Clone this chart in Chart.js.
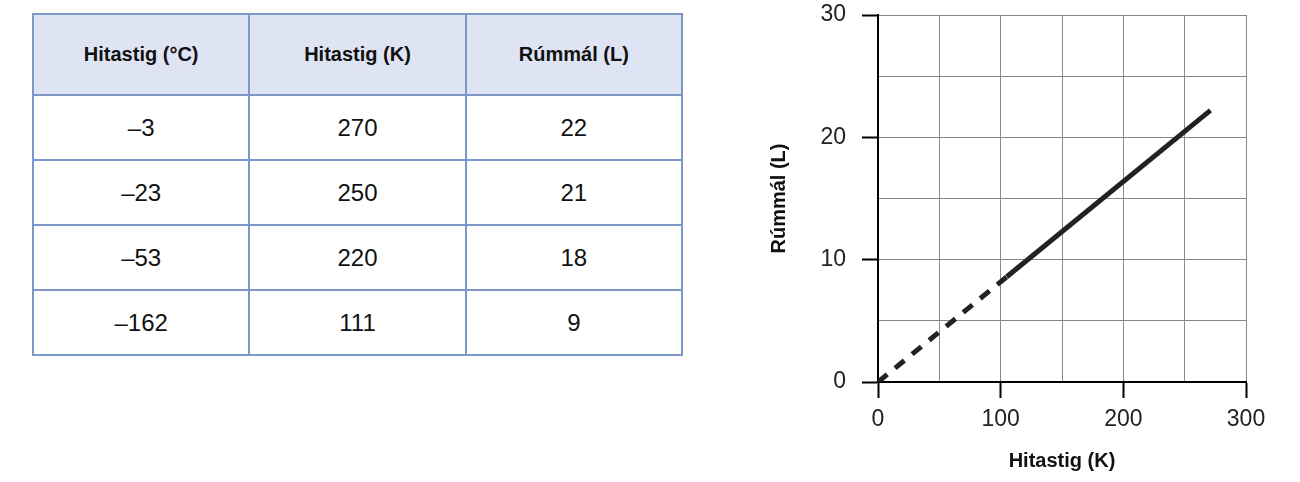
<!DOCTYPE html>
<html>
<head>
<meta charset="utf-8">
<script src="https://cdn.jsdelivr.net/npm/chart.js@4.4.1/dist/chart.umd.min.js"></script>
<style>
  body { margin: 0; width: 1300px; height: 482px; background: #fff; position: relative; font-family: "Liberation Sans", Arial, sans-serif; overflow: hidden; }
  #tbl { position: absolute; left: 32px; top: 13px; width: 651px; border-collapse: collapse; table-layout: fixed; color: #111; }
  #tbl th, #tbl td { border: 2px solid #7d97c9; text-align: center; padding: 0; }
  #tbl th { background: #dfe4f4; height: 79px; font-size: 20px; font-weight: bold; }
  #tbl td { height: 63px; font-size: 24px; }
  #wrap { position: absolute; left: 760px; top: 0; width: 540px; height: 482px; }
</style>
</head>
<body>
<table id="tbl"><thead><tr id="head"></tr></thead><tbody id="body"></tbody></table>
<div id="wrap"><canvas id="myChart"></canvas></div>
<script>
// Table data
const headers = ['Hitastig (°C)', 'Hitastig (K)', 'Rúmmál (L)'];
const tempC = ['–3', '–23', '–53', '–162'];
const tempK = [270, 250, 220, 111];
const volume = [22, 21, 18, 9];

// Line on the graph (dashed = extrapolated part)
const dashedX = [0, 105];
const dashedY = [0, 8.6];
const solidX = [105, 271];
const solidY = [8.6, 22.2];

// Axis ticks
const xMax = 300, xStep = 50, xLabelStep = 100;
const yMax = 30, yStep = 5, yLabelStep = 10;

const head = document.getElementById('head');
headers.forEach(h => {
    const th = document.createElement('th');
    th.textContent = h;
    head.appendChild(th);
});
const body = document.getElementById('body');
tempC.forEach((c, i) => {
    const tr = document.createElement('tr');
    [c, tempK[i], volume[i]].forEach(v => {
        const td = document.createElement('td');
        td.textContent = v;
        tr.appendChild(td);
    });
    body.appendChild(tr);
});

const toPts = (xs, ys) => xs.map((x, i) => ({x: x, y: ys[i]}));
const tickFont = {family: '"Liberation Sans", Arial, sans-serif', size: 23};
const titleFont = {family: '"Liberation Sans", Arial, sans-serif', size: 20, weight: 'bold'};

const config = {
    type: 'line',
    data: {
        datasets: [{
            data: toPts(dashedX, dashedY),
            borderColor: '#222',
            borderWidth: 5,
            borderDash: [12, 10],
            pointRadius: 0
        }, {
            data: toPts(solidX, solidY),
            borderColor: '#222',
            borderWidth: 5,
            pointRadius: 0
        }]
    },
    options: {
        responsive: true,
        maintainAspectRatio: false,
        animation: false,
        layout: {padding: {left: 0, right: 54, top: 15, bottom: 0}},
        plugins: {legend: {display: false}, tooltip: {enabled: false}},
        scales: {
            x: {
                type: 'linear',
                min: 0, max: xMax,
                afterFit: s => { s.height = 100; s.paddingLeft = 0; s.paddingRight = 0; },
                ticks: {
                    stepSize: xStep,
                    color: '#222',
                    font: tickFont,
                    padding: 8,
                    maxRotation: 0,
                    callback: v => v % xLabelStep === 0 ? v : ''
                },
                grid: {
                    color: '#888',
                    lineWidth: 1,
                    tickLength: 16,
                    tickWidth: 2,
                    tickColor: c => c.tick && c.tick.value % xLabelStep === 0 ? '#000' : 'rgba(0,0,0,0)'
                },
                border: {color: '#000', width: 2},
                title: {display: true, text: 'Hitastig (K)', color: '#111', font: titleFont, padding: {bottom: 9}}
            },
            y: {
                min: 0, max: yMax,
                afterFit: s => { s.width = 118; s.paddingTop = 0; s.paddingBottom = 0; },
                ticks: {
                    stepSize: yStep,
                    color: '#222',
                    font: tickFont,
                    padding: 16,
                    callback: v => v % yLabelStep === 0 ? v : ''
                },
                grid: {
                    color: '#888',
                    lineWidth: 1,
                    tickLength: 16,
                    tickWidth: 2,
                    tickColor: c => c.tick && c.tick.value % yLabelStep === 0 ? '#000' : 'rgba(0,0,0,0)'
                },
                border: {color: '#000', width: 2},
                title: {display: true, text: 'Rúmmál (L)', color: '#111', font: titleFont, padding: {top: 7}}
            }
        }
    }
};

const myChart = new Chart(document.getElementById('myChart'), config);
</script>
</body>
</html>
